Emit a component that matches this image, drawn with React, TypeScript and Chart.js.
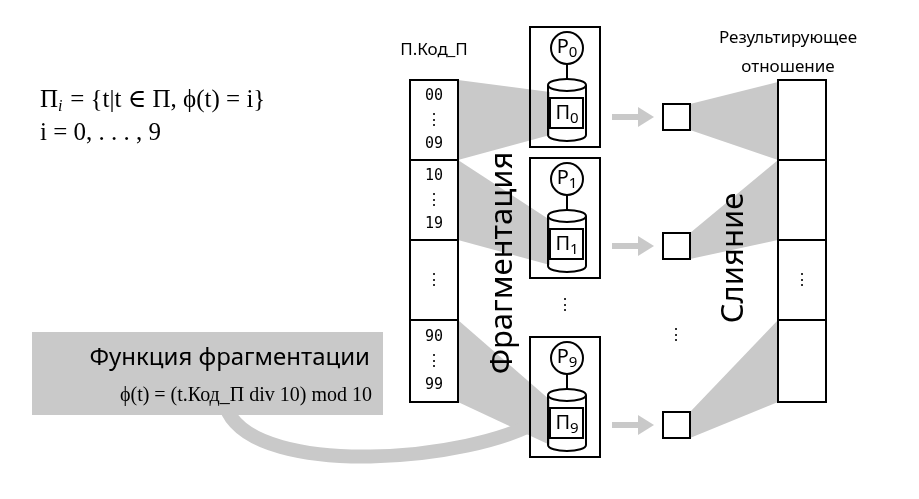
import { useEffect, useRef } from "react"
import { Chart, registerables } from "chart.js"

Chart.register(...registerables)

// diagram geometry in page units (x right, y down)
const tableRows = [80, 160, 240, 320, 402]
const tableX = [410, 458]
const resultX = [778, 826]
const rowLabels = [["00", "⋮", "09"], ["10", "⋮", "19"], ["⋮"], ["90", "⋮", "99"]]
const procTops = [27, 158, 337]
const procIdx = ["0", "1", "9"]
const squareY = [117, 246, 425]
const splitFans = [
    [[458, 80], [458, 160], [550, 135], [550, 92]],
    [[458, 160], [458, 240], [550, 265], [550, 220]],
    [[458, 320], [458, 402], [550, 445], [550, 400]],
]
const mergeFans = [
    [[690, 104], [690, 130], [778, 160], [778, 82]],
    [[690, 233], [690, 259], [778, 240], [778, 160]],
    [[690, 412], [690, 438], [778, 402], [778, 320]],
]
const curvePts = [[228, 412], [262, 478], [470, 462], [540, 420]]

const GRAY = "#c9c9c9"

function App() {
    const ref = useRef<HTMLCanvasElement>(null)

    useEffect(() => {
        if (!ref.current) return
        const plugin = {
            id: "diagram",
            afterDraw(chart: any) {
                const c = chart.ctx as CanvasRenderingContext2D
                const sx = (v: number) => chart.scales.x.getPixelForValue(v)
                const sy = (v: number) => chart.scales.y.getPixelForValue(v)
                const sans = "'Noto Sans', 'Open Sans', sans-serif"
                const mono = "'DejaVu Sans Mono', monospace"
                const serif = "'Liberation Serif', 'DejaVu Serif', serif"
                c.save()
                // gray fans
                c.fillStyle = GRAY
                for (const p of [...splitFans, ...mergeFans]) {
                    c.beginPath()
                    p.forEach(([x, y], i) => (i ? c.lineTo(sx(x), sy(y)) : c.moveTo(sx(x), sy(y))))
                    c.closePath()
                    c.fill()
                }
                // gray box
                c.fillRect(sx(32), sy(332), sx(383) - sx(32), sy(415) - sy(332))
                // curve
                c.strokeStyle = GRAY
                c.lineWidth = 14
                c.beginPath()
                c.moveTo(sx(curvePts[0][0]), sy(curvePts[0][1]))
                c.bezierCurveTo(sx(curvePts[1][0]), sy(curvePts[1][1]), sx(curvePts[2][0]), sy(curvePts[2][1]), sx(curvePts[3][0]), sy(curvePts[3][1]))
                c.stroke()
                // arrows
                c.fillStyle = GRAY
                for (const y of squareY) {
                    c.fillRect(sx(612), sy(y - 3), sx(640) - sx(612), 6)
                    c.beginPath()
                    c.moveTo(sx(638), sy(y - 10))
                    c.lineTo(sx(654), sy(y))
                    c.lineTo(sx(638), sy(y + 10))
                    c.fill()
                }
                c.strokeStyle = "#000"
                c.lineWidth = 2
                c.fillStyle = "#000"
                // columns
                for (const xs of [tableX, resultX]) {
                    c.fillStyle = "#fff"
                    c.fillRect(sx(xs[0]), sy(tableRows[0]), sx(xs[1]) - sx(xs[0]), sy(402) - sy(80))
                    for (let i = 0; i < 4; i++) c.strokeRect(sx(xs[0]), sy(tableRows[i]), sx(xs[1]) - sx(xs[0]), sy(tableRows[i + 1]) - sy(tableRows[i]))
                }
                c.fillStyle = "#000"
                c.textAlign = "center"
                c.textBaseline = "middle"
                rowLabels.forEach((lab, i) => {
                    const mid = (tableRows[i] + tableRows[i + 1]) / 2
                    lab.forEach((t, j) => {
                        c.font = t === "⋮" ? `16px ${sans}` : `15px ${mono}`
                        c.fillText(t, sx(434), sy(mid + (j - (lab.length - 1) / 2) * 24))
                    })
                })
                c.font = `16px ${sans}`
                c.fillText("⋮", sx(802), sy(280))
                c.fillText("⋮", sx(565), sy(305))
                c.fillText("⋮", sx(676), sy(335))
                // squares
                for (const y of squareY) {
                    c.fillStyle = "#fff"
                    c.fillRect(sx(663), sy(y - 13), 27, 26)
                    c.strokeRect(sx(663), sy(y - 13), 27, 26)
                }
                c.fillStyle = "#000"
                const sub = (base: string, s: string, x: number, y: number, size: number) => {
                    c.font = `${size}px ${sans}`
                    const w1 = c.measureText(base).width
                    c.font = `${size * 0.75}px ${sans}`
                    const w2 = c.measureText(s).width
                    const x0 = sx(x) - (w1 + w2) / 2
                    c.textAlign = "left"
                    c.font = `${size}px ${sans}`
                    c.fillText(base, x0, sy(y))
                    c.font = `${size * 0.75}px ${sans}`
                    c.fillText(s, x0 + w1, sy(y) + size * 0.3)
                    c.textAlign = "center"
                }
                // processors
                procTops.forEach((t, i) => {
                    c.strokeRect(sx(530), sy(t), sx(600) - sx(530), sy(t + 120) - sy(t))
                    c.beginPath()
                    c.arc(sx(567), sy(t + 21), 16, 0, Math.PI * 2)
                    c.stroke()
                    sub("P", procIdx[i], 567, t + 20, 20)
                    c.beginPath()
                    c.moveTo(sx(567), sy(t + 37))
                    c.lineTo(sx(567), sy(t + 52))
                    c.stroke()
                    c.beginPath()
                    c.ellipse(sx(567), sy(t + 58), 19, 6, 0, 0, Math.PI * 2)
                    c.moveTo(sx(548), sy(t + 58))
                    c.lineTo(sx(548), sy(t + 108))
                    c.ellipse(sx(567), sy(t + 108), 19, 6, 0, Math.PI, 0, true)
                    c.lineTo(sx(586), sy(t + 58))
                    c.stroke()
                    c.strokeRect(sx(550), sy(t + 71), 33, 30)
                    sub("П", procIdx[i], 567, t + 86, 20)
                })
                // labels
                c.font = `17px ${sans}`
                c.fillText("П.Код_П", sx(434), sy(50))
                c.fillText("Результирующее", sx(788), sy(38))
                c.fillText("отношение", sx(788), sy(67))
                c.font = `24px ${sans}`
                c.textAlign = "right"
                c.fillText("Функция фрагментации", sx(370), sy(358))
                c.font = `20px ${serif}`
                c.fillText("ϕ(t) = (t.Код_П div 10) mod 10", sx(372), sy(396))
                c.textAlign = "left"
                c.font = `25px ${serif}`
                c.fillText("Π", sx(40), sy(100))
                c.font = `italic 16px ${serif}`
                c.fillText("i", sx(58), sy(107))
                c.font = `25px ${serif}`
                c.fillText(" = {t|t ∈ Π, ϕ(t) = i}", sx(64), sy(100))
                c.fillText("i = 0, . . . , 9", sx(40), sy(133))
                // rotated
                c.font = `31px ${sans}`
                c.textAlign = "center"
                c.save()
                c.translate(sx(503), sy(263))
                c.rotate(-Math.PI / 2)
                c.fillText("Фрагментация", 0, 0)
                c.restore()
                c.save()
                c.translate(sx(734), sy(258))
                c.rotate(-Math.PI / 2)
                c.fillText("Слияние", 0, 0)
                c.restore()
                c.restore()
            },
        }
        const chart = new Chart(ref.current, {
            type: "scatter",
            data: { datasets: [{ data: [], showLine: false }] },
            options: {
                animation: false,
                responsive: true,
                maintainAspectRatio: false,
                layout: { padding: 0 },
                plugins: { legend: { display: false }, tooltip: { enabled: false } },
                scales: {
                    x: { display: false, min: 0, max: 919 },
                    y: { display: false, min: 0, max: 499, reverse: true },
                },
            },
            plugins: [plugin],
        })
        return () => chart.destroy()
    }, [])

    return (
        <div style={{ position: "absolute", left: 0, top: 0, width: 919, height: 499, background: "#fff" }}>
            <canvas ref={ref}></canvas>
        </div>
    )
}

export default App
